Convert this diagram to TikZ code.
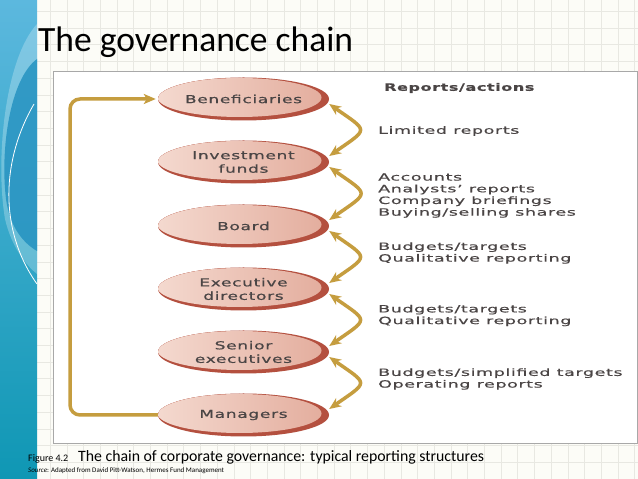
\documentclass[tikz,border=0pt]{standalone}
\usepackage{fontspec}
\setmainfont{Carlito}
\newfontfamily\chartfont[FakeStretch=1.55,LetterSpace=6,FakeBold=0.8]{DejaVu Sans}
\newfontfamily\notefont[FakeStretch=1.75,LetterSpace=6,FakeBold=0.5]{DejaVu Sans}
\usetikzlibrary{arrows.meta,shapes.geometric}

\definecolor{slidebg}{HTML}{FCFCF7}
\definecolor{gridgray}{HTML}{E8E8E2}
\definecolor{bartop}{HTML}{5CB8DE}
\definecolor{barbot}{HTML}{0F97B4}
\definecolor{swoosh}{HTML}{1F8FBF}
\definecolor{gold}{HTML}{C59D3F}
\definecolor{rim}{HTML}{B4503F}
\definecolor{pinklight}{HTML}{F4D9CF}
\definecolor{pinkmid}{HTML}{E3AC9C}
\definecolor{ink}{HTML}{4A4545}
\definecolor{boxgray}{HTML}{A8A8A8}

\tikzset{
  party/.style={ellipse, minimum width=171pt, minimum height=43pt, inner sep=0pt,
    fill=rim, align=center, text=ink,
    font=\chartfont\fontsize{11}{13.5}\selectfont,
    path picture={\fill[left color=pinklight, right color=pinkmid]
      ([xshift=-4pt,yshift=1.5pt]path picture bounding box.center) ellipse (82pt and 19.5pt);}},
  note/.style={anchor=west, align=left, text=ink, inner sep=0pt,
    font=\notefont\fontsize{10}{11.7}\selectfont},
  swing/.style={gold, line width=3.5pt,
    {Stealth[length=12pt,width=10pt,inset=4pt]}-{Stealth[length=12pt,width=10pt,inset=4pt]},
    out=-35, in=35, looseness=2.4},
  feed/.style={gold, line width=3.5pt, rounded corners=10pt,
    -{Stealth[length=12pt,width=10pt,inset=3pt]}}
}

\begin{document}
\begin{tikzpicture}[x=1pt,y=1pt]
\useasboundingbox (0,0) rectangle (638,479);
% slide background
\fill[slidebg] (0,0) rectangle (638,479);
\draw[gridgray, line width=.6pt] (37,0) grid[step=16.7pt] (638,479);

% side bar
\shade[top color=bartop, bottom color=barbot] (0,0) rectangle (37,479);
\begin{scope}
\clip (0,0) rectangle (37,479);
\fill[white, opacity=.25] (37,455) .. controls (5,420) and (-5,320) .. (5,260)
  .. controls (12,230) and (28,212) .. (37,205) -- cycle;
\fill[swoosh, opacity=.8] (37,420) .. controls (10,400) and (0,330) .. (6,280)
  .. controls (10,250) and (25,235) .. (37,228) -- cycle;
\draw[white, line width=.8pt] (34,375) .. controls (2,320) and (-2,250) .. (37,195);
\end{scope}

\node[anchor=base west, inner sep=0pt, font=\fontsize{35.5}{40}\selectfont] (title) at (38,427) {The governance chain};

% figure frame
\draw[boxgray, fill=white] (53,36) rectangle (637,408);

% chain
\node[party] (ben) at (243.5,380) {Beneficiaries};
\node[party] (inv) at (243.5,317) {Investment\\funds};
\node[party] (brd) at (243.5,253) {Board};
\node[party] (exe) at (243.5,190) {Executive\\directors};
\node[party] (sen) at (243.5,127) {Senior\\executives};
\node[party] (man) at (243.5,64) {Managers};

\draw[swing] ([yshift=-5pt]ben.east) to ([yshift=6pt]inv.east);
\draw[swing] ([yshift=-5pt]inv.east) to ([yshift=6pt]brd.east);
\draw[swing] ([yshift=-5pt]brd.east) to ([yshift=6pt]exe.east);
\draw[swing] ([yshift=-5pt]exe.east) to ([yshift=6pt]sen.east);
\draw[swing] ([yshift=-5pt]sen.east) to ([yshift=6pt]man.east);

\coordinate (loop) at (70,220);
\draw[feed] (man.west) -| (loop) |- ([xshift=-2pt]ben.west);

% reports
\node[note, font=\chartfont\bfseries\fontsize{10.3}{11.7}\selectfont] (head) at (384,391) {Reports/actions};
\node[note] (lim) at (378,348) {Limited reports};
\node[note] (acc) at (378,283.5) {Accounts\\Analysts’ reports\\Company briefings\\Buying/selling shares};
\node[note] (bud) at (378,226) {Budgets/targets\\Qualitative reporting};
\node[note] (qual) at (378,163.5) {Budgets/targets\\Qualitative reporting};
\node[note] (oper) at (378,100) {Budgets/simplified targets\\Operating reports};

% caption
\node[anchor=base west, inner sep=0pt, font=\fontsize{10}{11}\selectfont] (fig) at (28,17) {Figure 4.2};
\node[anchor=base west, inner sep=0pt, font=\fontsize{15.8}{17}\selectfont] (cap) at (78,17) {The chain of corporate governance: typical reporting structures};
\node[anchor=base west, inner sep=0pt, font=\fontsize{7}{8}\selectfont] (src) at (28,6) {\textit{Source}: Adapted from David Pitt-Watson, Hermes Fund Management};
\end{tikzpicture}
\end{document}
